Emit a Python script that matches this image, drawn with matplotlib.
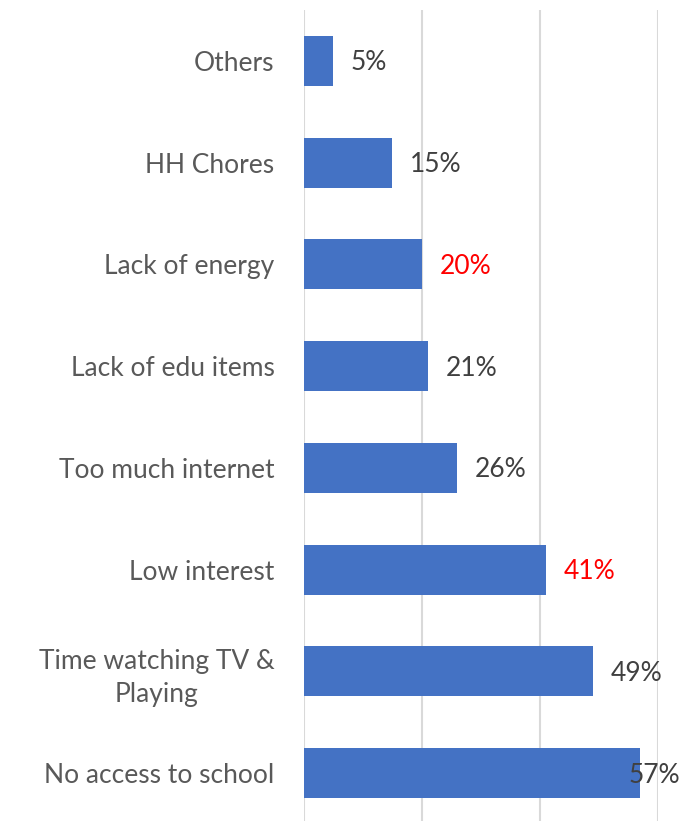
import matplotlib
matplotlib.use("Agg")
import matplotlib.pyplot as plt

# Reasons for not studying (share of respondents, %)
categories = [
    "No access to school",
    "Time watching TV &\nPlaying",
    "Low interest",
    "Too much internet",
    "Lack of edu items",
    "Lack of energy",
    "HH Chores",
    "Others",
]
values = [57, 49, 41, 26, 21, 20, 15, 5]
highlighted = ["Low interest", "Lack of energy"]
x_ticks = [0, 20, 40, 60]

W, H = 684, 821
fig = plt.figure(figsize=(W / 100, H / 100), dpi=100)
left, right, top, bottom = 303.7, 657.7, 10, 821
ax = fig.add_axes([left / W, 1 - bottom / H, (right - left) / W, (bottom - top) / H])

bar_color = "#4472C4"
ypos = list(range(len(categories)))
ax.barh(ypos, values, height=0.49, color=bar_color, zorder=3)

ax.set_xlim(0, 60)
ax.set_ylim(-0.47, 7.5)
ax.set_xticks(x_ticks)
ax.set_xticklabels([])
ax.tick_params(axis="x", length=0)
ax.grid(axis="x", color="#d9d9d9", linewidth=1.5, zorder=0)
for s in ax.spines.values():
    s.set_visible(False)

font = ["Lato", "DejaVu Sans"]
fs = 19
ax.set_yticks(ypos)
ax.set_yticklabels(categories, fontsize=fs, color="#595959", family=font,
                   linespacing=1.42)
ax.tick_params(axis="y", length=0, pad=21)
for lbl in ax.get_yticklabels():
    lbl.set_multialignment("center")

fig.canvas.draw()
renderer = fig.canvas.get_renderer()

px_per_unit = (right - left) / 60.0
label_limit = (680 - left) / px_per_unit
for y, v, c in zip(ypos, values, categories):
    col = "#FF0000" if c in highlighted else "#404040"
    x = v + 3.0
    t = ax.text(x, y - 0.02, f"{v}%", va="center", ha="left", fontsize=fs,
                color=col, family=font, clip_on=False, zorder=4)
    bb = t.get_window_extent(renderer)
    if x + bb.width / px_per_unit > label_limit:
        t.set_x(label_limit)
        t.set_horizontalalignment("right")

fig.savefig("out.png", dpi=100)
